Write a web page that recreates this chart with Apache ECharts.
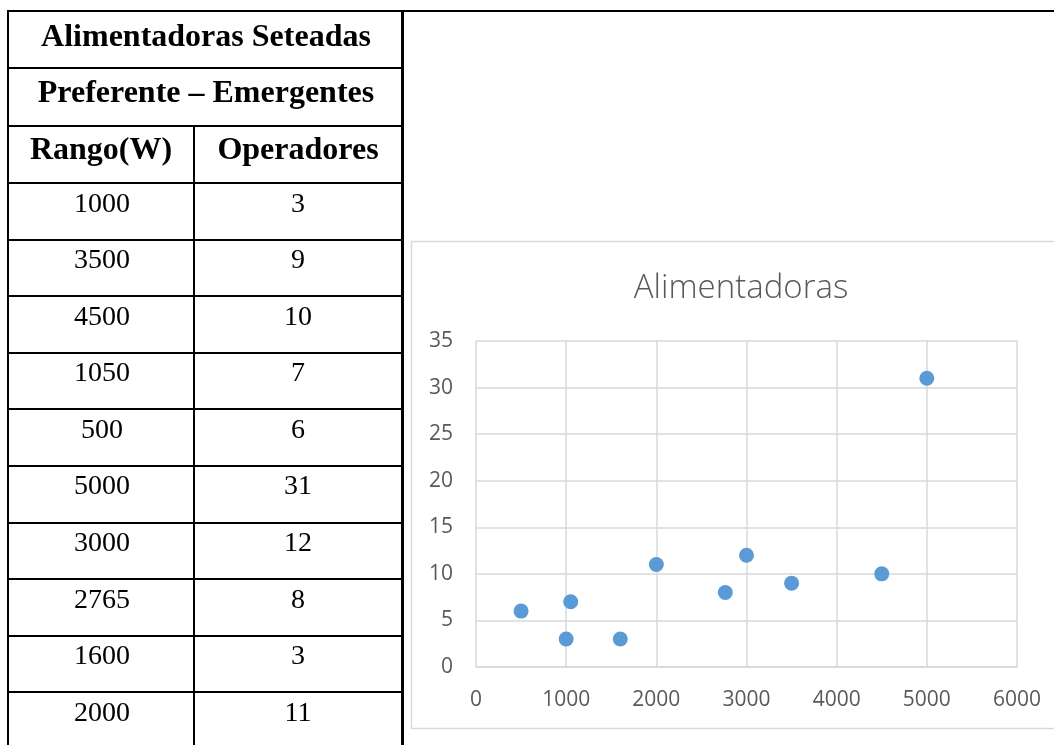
<!DOCTYPE html>
<html>
<head>
<meta charset="utf-8">
<script src="https://cdn.jsdelivr.net/npm/echarts@6/dist/echarts.min.js"></script>
<style>
  html, body { margin: 0; padding: 0; background: #ffffff; }
  #chart { width: 1054px; height: 745px; }
</style>
</head>
<body>
<div id="chart"></div>
<script>
// ---- data ----
const tableTitle1 = 'Alimentadoras Seteadas';
const tableTitle2 = 'Preferente – Emergentes';
const colHeaders = ['Rango(W)', 'Operadores'];
const rango = [1000, 3500, 4500, 1050, 500, 5000, 3000, 2765, 1600, 2000];
const operadores = [3, 9, 10, 7, 6, 31, 12, 8, 3, 11];
const chartTitle = 'Alimentadoras';
const xTicks = { min: 0, max: 6000, interval: 1000 };
const yTicks = { min: 0, max: 35, interval: 5 };

// ---- table drawn as graphic elements ----
const serif = '"Liberation Serif", "Times New Roman", serif';
const graphics = [];
const L = 8, R = 402.5, COL = 194, TOP = 11;
function hline(y, x1, x2, w) {
  graphics.push({ type: 'line', shape: { x1: x1, y1: y, x2: x2, y2: y }, style: { stroke: '#000', lineWidth: w || 2 } });
}
function vline(x, y1, y2, w) {
  graphics.push({ type: 'line', shape: { x1: x, y1: y1, x2: x, y2: y2 }, style: { stroke: '#000', lineWidth: w || 2 } });
}
function text(str, x, y, size, bold) {
  graphics.push({ type: 'text', x: x, y: y, style: {
    text: String(str), fontFamily: serif, fontSize: size, fontWeight: bold ? 'bold' : 'normal',
    fill: '#000', align: 'center', verticalAlign: 'middle' } });
}
// outer lines
hline(TOP, 7, 1054, 2);
vline(L, 10, 745, 2);
vline(R, 10, 745, 3);
// header rows
hline(68, L, R);
hline(126, L, R);
vline(COL, 126, 745, 2);
text(tableTitle1, 206, 38, 32, true);
text(tableTitle2, 206, 94, 32, true);
text(colHeaders[0], 101, 151, 32, true);
text(colHeaders[1], 298, 151, 32, true);
// body rows
const rowStart = 183.2, rowPitch = 56.57;
rango.forEach(function (v, i) {
  const top = rowStart + i * rowPitch;
  hline(Math.round(top), L, R);
  text(v, 102, top + 21, 28, false);
  text(operadores[i], 298, top + 21, 28, false);
});
// chart frame
graphics.push({ type: 'rect', z: -10, shape: { x: 411.5, y: 241.5, width: 700, height: 487 },
  style: { fill: 'none', stroke: '#d9d9d9', lineWidth: 1.5 } });

const sans = '"Open Sans", "Noto Sans", sans-serif';
const plain = function (v) { return String(v); };
const chart = echarts.init(document.getElementById('chart'), null, { renderer: 'canvas' });
chart.setOption({
  animation: false,
  backgroundColor: '#ffffff',
  graphic: graphics,
  title: {
    text: chartTitle,
    left: 741,
    textAlign: 'center',
    top: 272,
    padding: 0,
    textStyle: { fontFamily: sans, fontSize: 33, fontWeight: 300, color: '#595959' }
  },
  grid: { left: 476, right: 37, top: 341, bottom: 78, containLabel: false },
  xAxis: {
    type: 'value',
    min: xTicks.min, max: xTicks.max, interval: xTicks.interval,
    axisLine: { show: true, lineStyle: { color: '#d9d9d9', width: 1.5 } },
    axisTick: { show: false },
    axisLabel: { margin: 23, fontFamily: sans, fontSize: 21, color: '#595959', formatter: plain },
    splitLine: { show: true, lineStyle: { color: '#d9d9d9', width: 1.5 } }
  },
  yAxis: {
    type: 'value',
    min: yTicks.min, max: yTicks.max, interval: yTicks.interval,
    axisLine: { show: false },
    axisTick: { show: false },
    axisLabel: { margin: 23, fontFamily: sans, fontSize: 21, color: '#595959', formatter: plain },
    splitLine: { show: true, lineStyle: { color: '#d9d9d9', width: 1.5 } }
  },
  series: [{
    type: 'scatter',
    symbol: 'circle',
    symbolSize: 15,
    itemStyle: { color: '#5b9bd5', opacity: 1 },
    data: rango.map(function (x, i) { return [x, operadores[i]]; })
  }]
});
</script>
</body>
</html>
